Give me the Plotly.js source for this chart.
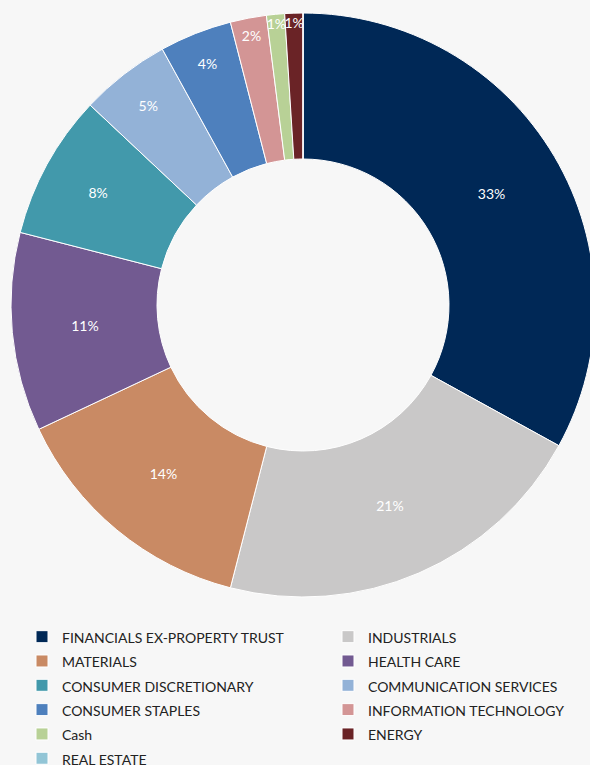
<!DOCTYPE html>
<html>
<head>
<meta charset="utf-8">
<script src="https://cdn.plot.ly/plotly-3.0.1.min.js"></script>
<style>
html,body{margin:0;padding:0;background:#f7f7f7;overflow:hidden;width:590px;height:765px;}
#chart{width:700px;height:800px;}
</style>
</head>
<body>
<div id="chart"></div>
<script>
const sectors = ["FINANCIALS EX-PROPERTY TRUST","INDUSTRIALS","MATERIALS","HEALTH CARE","CONSUMER DISCRETIONARY","COMMUNICATION SERVICES","CONSUMER STAPLES","INFORMATION TECHNOLOGY","Cash","ENERGY","REAL ESTATE"];
const weights = [33, 21, 14, 11, 8, 5, 4, 2, 1, 1, 0];
const sectorColors = ["#002856","#c9c8c8","#c98a64","#725a91","#4299ab","#93b2d7","#4e80bd","#d39595","#b8d196","#6a2326","#92c5d6"];

const W = 700, H = 800;
const labelTemplates = weights.map(v => v > 0 ? '%{percent:.0%}' : '');
const legendLabels = sectors.map(s => '<span style="font-size:14px">' + s + '</span>');

const trace = {
  type: 'pie',
  labels: legendLabels,
  values: weights,
  marker: {colors: sectorColors, line: {color: '#ffffff', width: 1}},
  hole: 0.5,
  sort: false,
  direction: 'clockwise',
  rotation: 0,
  textinfo: 'percent',
  texttemplate: labelTemplates,
  textposition: 'inside',
  insidetextorientation: 'horizontal',
  textfont: {family: 'Lato, "Open Sans", sans-serif', size: 14, color: '#ffffff'},
  domain: {x: [0, 606 / W], y: [(H - 597) / H, (H - 13) / H]},
  hoverinfo: 'percent'
};

const layout = {
  width: W, height: H,
  margin: {l: 0, r: 0, t: 0, b: 0},
  paper_bgcolor: '#f7f7f7',
  plot_bgcolor: '#f7f7f7',
  showlegend: true,
  uniformtext: {minsize: 14, mode: 'show'},
  legend: {
    orientation: 'h',
    x: 22 / W, xanchor: 'left',
    y: 1 - 619.5 / H, yanchor: 'top',
    entrywidth: 261, entrywidthmode: 'pixels',
    font: {family: 'Lato, "Open Sans", sans-serif', size: 16.4, color: '#222222'},
    bgcolor: 'rgba(0,0,0,0)',
    traceorder: 'normal'
  }
};

Plotly.newPlot('chart', [trace], layout, {displayModeBar: false, staticPlot: true});
</script>
</body>
</html>
